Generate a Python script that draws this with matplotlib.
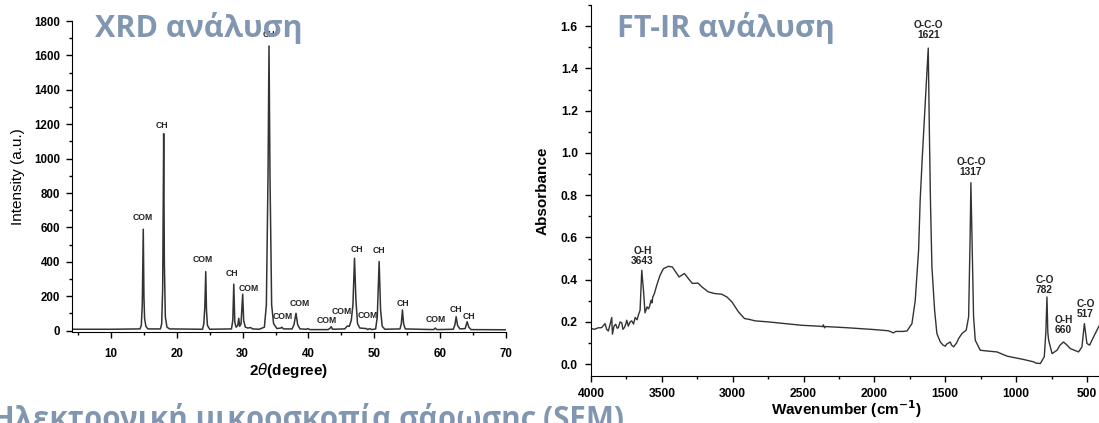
import numpy as np
import matplotlib
matplotlib.use('Agg')
import matplotlib.pyplot as plt
from matplotlib.ticker import MultipleLocator

plt.rcParams['font.family'] = ['Liberation Sans', 'DejaVu Sans']

# --- XRD trace (2theta, intensity) ---
xrd_2theta = [4.1, 10.0, 14.4, 14.6, 14.75, 14.9, 15.0, 15.1, 15.3, 15.6,
              17.5, 17.7, 17.85, 18.0, 18.1, 18.25, 18.5, 18.9,
              23.9, 24.1, 24.25, 24.39, 24.5, 24.65, 25.0,
              28.3, 28.5, 28.65, 28.8, 29.0, 29.25, 29.4, 29.55, 29.75, 30.0, 30.15, 30.4,
              30.8, 31.2, 31.5, 32.5, 33.3, 33.6, 33.85, 34.0, 34.15, 34.4, 34.7, 35.2,
              35.8, 35.95, 36.2, 37.5, 37.8, 38.1, 38.35, 38.7, 39.7, 39.9, 40.2,
              43.0, 43.3, 43.45, 43.65, 45.5, 45.9, 46.2, 46.5, 46.75, 46.99, 47.2, 47.45, 47.8,
              48.8, 49.0, 49.3, 49.6, 50.2, 50.45, 50.73, 50.95, 51.2, 51.6,
              53.9, 54.1, 54.27, 54.45, 54.7, 59.0, 59.25, 59.5,
              62.0, 62.25, 62.43, 62.65, 63.0, 63.8, 64.1, 64.35, 64.7, 70.0]
xrd_int = [8, 8, 10, 30, 150, 590, 200, 70, 25, 10,
           10, 40, 250, 1145, 400, 80, 20, 10,
           8, 40, 140, 343, 120, 30, 8,
           10, 60, 270, 50, 20, 30, 72, 25, 40, 212, 60, 20,
           15, 18, 10, 8, 20, 150, 900, 1655, 900, 150, 40, 12,
           15, 20, 10, 10, 35, 101, 35, 10, 8, 12, 6,
           6, 15, 23, 8, 10, 27, 25, 60, 150, 421, 180, 40, 15,
           12, 6, 12, 6, 10, 80, 402, 120, 25, 8,
           10, 40, 120, 40, 10, 6, 15, 6,
           8, 35, 81, 30, 10, 12, 52, 20, 6, 5]

# phase labels (text, x, y)
xrd_lab = ['COM', 'CH', 'COM', 'CH', 'COM', 'CH', 'COM', 'COM', 'COM', 'COM',
           'CH', 'COM', 'CH', 'CH', 'COM', 'CH', 'CH']
xrd_lab_x = [14.86, 17.79, 23.93, 28.44, 30.87, 34.0, 36.14, 38.62, 42.78, 45.06,
             47.39, 48.95, 50.73, 54.42, 59.35, 62.39, 64.41]
xrd_lab_y = [656, 1192, 411, 332, 244, 1720, 81, 159, 58, 111,
             470, 86, 464, 155, 66, 120, 81]

# --- FT-IR trace (wavenumber, absorbance) ---
ir_wn = [4000, 3975, 3950, 3925, 3910, 3901, 3890, 3878, 3865, 3854, 3849, 3838, 3826,
         3815, 3807, 3795, 3783, 3775, 3765, 3755, 3748, 3737, 3725, 3713, 3700, 3689,
         3675, 3666, 3654, 3642, 3630, 3619, 3605, 3595, 3588, 3576, 3570, 3564, 3553,
         3536, 3513, 3489, 3454, 3426, 3402, 3379, 3341, 3313, 3285, 3246, 3218, 3172,
         3124, 3077, 3041, 3006, 2959, 2917, 2877, 2842, 2748, 2630, 2512, 2395, 2365,
         2360, 2352, 2345, 2206, 2006, 1900, 1865, 1850, 1800, 1770, 1735, 1712, 1688,
         1677, 1662, 1640, 1620, 1612, 1604, 1594, 1575, 1559, 1535, 1515, 1500, 1490,
         1465, 1455, 1441, 1420, 1406, 1382, 1352, 1335, 1324, 1319, 1312, 1300, 1288,
         1253, 1200, 1135, 1064, 946, 900, 876, 860, 829, 801, 790, 782, 776, 770, 746,
         711, 690, 665, 640, 618, 559, 535, 518, 500, 481, 453, 412, 400]
ir_abs = [0.169, 0.165, 0.172, 0.173, 0.185, 0.192, 0.165, 0.157, 0.19, 0.221, 0.142, 0.18, 0.189,
          0.17, 0.173, 0.2, 0.195, 0.165, 0.173, 0.19, 0.208, 0.18, 0.2, 0.205, 0.19, 0.221,
          0.21, 0.232, 0.255, 0.444, 0.350, 0.243, 0.271, 0.262, 0.271, 0.303, 0.29, 0.318, 0.334,
          0.374, 0.421, 0.452, 0.463, 0.460, 0.436, 0.413, 0.429, 0.405, 0.382, 0.384, 0.366, 0.342,
          0.334, 0.331, 0.318, 0.295, 0.247, 0.216, 0.211, 0.205, 0.200, 0.192, 0.184, 0.180, 0.178,
          0.186, 0.172, 0.178, 0.173, 0.164, 0.158, 0.148, 0.155, 0.155, 0.157, 0.192, 0.30, 0.54,
          0.775, 0.98, 1.25, 1.496, 1.10, 0.76, 0.46, 0.255, 0.145, 0.105, 0.09, 0.085, 0.095,
          0.105, 0.09, 0.082, 0.10, 0.121, 0.145, 0.161, 0.224, 0.618, 0.859, 0.618, 0.224, 0.113,
          0.066, 0.062, 0.058, 0.038, 0.022, 0.015, 0.011, 0.005, 0.003, 0.035, 0.15, 0.318, 0.15, 0.113, 0.050,
          0.066, 0.09, 0.105, 0.09, 0.074, 0.058, 0.082, 0.192, 0.098, 0.090, 0.129, 0.184, 0.19]

ir_lab = ['O-H\n3643', 'O-C-O\n1621', 'O-C-O\n1317', 'C-O\n782', 'O-H\n660', 'C-O\n517']
ir_lab_x = [3638, 1618, 1319, 800, 665, 511]
ir_lab_y = [0.513, 1.583, 0.931, 0.373, 0.184, 0.261]

titulo_color = '#8197b1'
linea = '#333333'

fig = plt.figure(figsize=(10.99, 4.23), dpi=100)

# panel izquierdo: XRD
ax1 = fig.add_axes([0.0655, 0.2151, 0.3949, 0.7352])
ax1.plot(xrd_2theta, xrd_int, color=linea, lw=1.1)
ax1.set_xlim(4.07, 70)
ax1.set_ylim(-8, 1800)
ax1.xaxis.set_major_locator(MultipleLocator(10))
ax1.xaxis.set_minor_locator(MultipleLocator(5))
ax1.yaxis.set_major_locator(MultipleLocator(200))
ax1.yaxis.set_minor_locator(MultipleLocator(100))
ax1.tick_params(which='major', direction='out', length=4, width=1, labelsize=8.3)
ax1.tick_params(which='minor', direction='out', length=2.5, width=1)
ax1.tick_params(axis='x', which='major', pad=7.5)
ax1.tick_params(axis='y', which='major', pad=4.5)
for t in ax1.get_xticklabels() + ax1.get_yticklabels():
    t.set_fontweight('bold')
for lab, xx, yy in zip(xrd_lab, xrd_lab_x, xrd_lab_y):
    ax1.text(xx, yy, lab, fontsize=6.2, fontweight='bold', ha='center', va='center', color='#222222')
ax1.set_xlabel(r'2$\mathit{\theta}$(degree)', fontsize=11, fontweight='bold')
ax1.set_ylabel('Intensity (a.u.)', fontsize=11)
ax1.xaxis.set_label_coords(0.5, -0.124)
ax1.xaxis.label.set_va('center')
ax1.yaxis.set_label_coords(-0.124, 0.5)
ax1.yaxis.label.set_va('center')
ax1.spines['top'].set_visible(False)
ax1.spines['right'].set_visible(False)

# panel derecho: FT-IR
ax2 = fig.add_axes([0.5378, 0.1111, 0.4641, 0.8771])
ax2.plot(ir_wn, ir_abs, color=linea, lw=1.0)
ax2.set_xlim(4000, 400)
ax2.set_ylim(-0.056, 1.70)
ax2.xaxis.set_major_locator(MultipleLocator(500))
ax2.xaxis.set_minor_locator(MultipleLocator(250))
ax2.yaxis.set_major_locator(MultipleLocator(0.2))
ax2.yaxis.set_minor_locator(MultipleLocator(0.1))
ax2.tick_params(which='major', direction='out', length=4, width=1, labelsize=8.7)
ax2.tick_params(which='minor', direction='out', length=2.5, width=1)
ax2.tick_params(axis='x', which='major', pad=4.5)
ax2.tick_params(axis='y', which='major', pad=5.5)
ax2.yaxis.set_major_formatter(matplotlib.ticker.FormatStrFormatter('%.1f'))
for t in ax2.get_xticklabels() + ax2.get_yticklabels():
    t.set_fontweight('bold')
for lab, xx, yy in zip(ir_lab, ir_lab_x, ir_lab_y):
    ax2.text(xx, yy, lab, fontsize=7.3, fontweight='bold', ha='center', va='center',
             linespacing=1.0, color='#222222')
ax2.set_xlabel(r'Wavenumber (cm$^{\mathbf{-1}}$)', fontsize=11, fontweight='bold')
ax2.set_ylabel('Absorbance', fontsize=11, fontweight='bold')
ax2.xaxis.set_label_coords(0.5, -0.089)
ax2.xaxis.label.set_va('center')
ax2.yaxis.set_label_coords(-0.094, 0.5)
ax2.yaxis.label.set_va('center')
ax2.spines['top'].set_visible(False)
ax2.spines['right'].set_visible(False)

# titulos de la diapositiva
fuente = ['Open Sans', 'DejaVu Sans']
fig.text(0.0864, 0.9132, 'XRD ανάλυση', family=fuente, fontsize=22, fontweight='bold',
         color=titulo_color, ha='left', va='baseline')
fig.text(0.5614, 0.9132, 'FT-IR ανάλυση', family=fuente, fontsize=22, fontweight='bold',
         color=titulo_color, ha='left', va='baseline')
fig.text(-0.0073, -0.0118, 'Ηλεκτρονική μικροσκοπία σάρωσης (SEM)', family=fuente,
         fontsize=21.3, fontweight='bold', color=titulo_color, ha='left', va='baseline')

fig.savefig('out.png', dpi=100)
